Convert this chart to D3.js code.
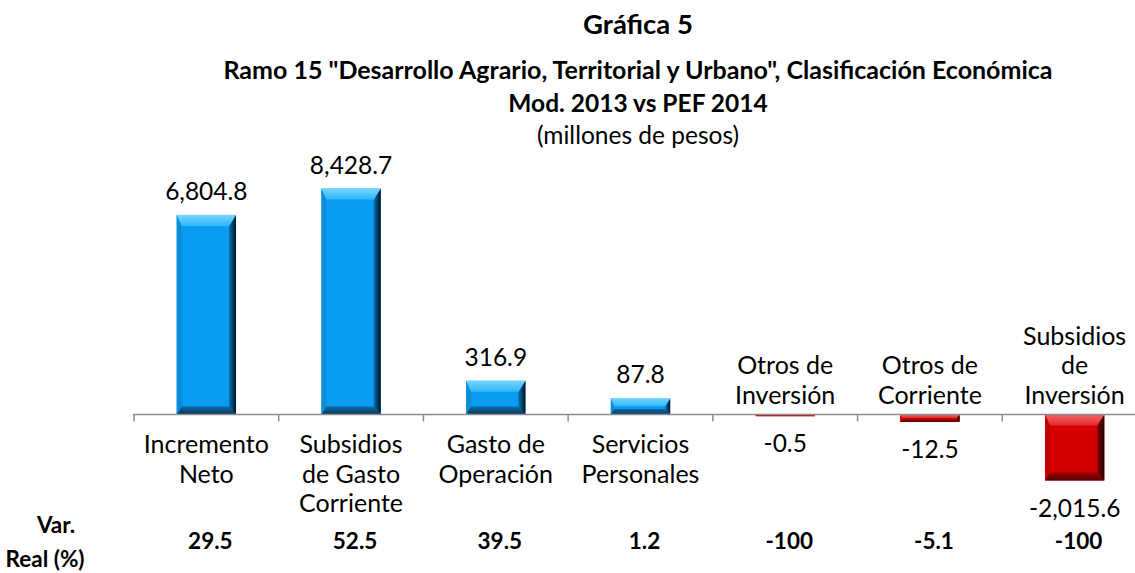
<!DOCTYPE html>
<html><head><meta charset="utf-8">
<script src="https://cdn.jsdelivr.net/npm/d3@7"></script>
<style>body{margin:0;background:#fff}svg{display:block;font-family:Lato,"Open Sans",sans-serif}</style>
</head><body><svg id="c" width="1135" height="573"></svg>
<script>
// ---- data ----
const categories = ["Incremento\nNeto", "Subsidios\nde Gasto\nCorriente", "Gasto de\nOperación", "Servicios\nPersonales", "Otros de\nInversión", "Otros de\nCorriente", "Subsidios\nde\nInversión"];
const values = [6804.8, 8428.7, 316.9, 87.8, -0.5, -12.5, -2015.6];
const varReal = [29.5, 52.5, 39.5, 1.2, -100, -5.1, -100];
const titleLines = ["Gráfica 5", "Ramo 15 \"Desarrollo Agrario, Territorial y Urbano\", Clasificación Económica", "Mod. 2013 vs PEF 2014", "(millones de pesos)"];
const rowLabel = ["Var.", "Real (%)"];

// ---- setup ----
const svg = d3.select("#c");
const loc = d3.formatLocale({decimal: ".", thousands: ",", grouping: [3], currency: ["$", ""], minus: "-"});
const fmtVal = loc.format(",.1f");
const fmtVar = d => Number.isInteger(d) ? loc.format("d")(d) : loc.format(".1f")(d);

const y0 = 414.5;
const x = d3.scaleBand().domain(d3.range(categories.length)).range([134, 1147]).paddingInner(0).paddingOuter(0);
const yPos = d3.scalePow().exponent(0.58).domain([0, d3.max(values)]).range([y0, y0 - 226]);
const yNeg = d3.scalePow().exponent(0.43).domain([0, d3.min(values)]).range([y0, y0 + 66]);
const y = v => v >= 0 ? yPos(v) : yNeg(v);
const barW = x.bandwidth() * 0.41;

// ---- gradients ----
const defs = svg.append("defs");
const pals = {
  blue: {face: "#0a9cf0", top: ["#74d6ff", "#30b6fa"], right: ["#0a70b4", "#001224"], bottom: ["#0b6aa6", "#07385c"], left: ["#0d90dc", "#0a88d0"]},
  red: {face: "#d20000", top: ["#f46464", "#e22a2a"], right: ["#880000", "#1c0000"], bottom: ["#a00000", "#560000"], left: ["#c60000", "#bd0000"]}
};
Object.entries(pals).forEach(([k, p]) => {
  const mk = (id, c, x2, y2) => {
    const g = defs.append("linearGradient").attr("id", id).attr("x1", 0).attr("y1", 0).attr("x2", x2).attr("y2", y2);
    g.append("stop").attr("offset", "0%").attr("stop-color", c[0]);
    g.append("stop").attr("offset", "100%").attr("stop-color", c[1]);
  };
  mk(k + "-top", p.top, 0, 1);
  mk(k + "-right", p.right, 1, 0);
  mk(k + "-bottom", p.bottom, 0, 1);
  mk(k + "-left", p.left, 1, 0);
});

// ---- title ----
const cx = 638;
const tl = svg.append("g").attr("fill", "#000").attr("text-anchor", "middle");
tl.append("text").attr("x", cx).attr("y", 34).attr("font-size", 27.5).attr("font-weight", "bold").text(titleLines[0]);
tl.append("text").attr("x", cx).attr("y", 79).attr("font-size", 25).attr("font-weight", "bold").text(titleLines[1]);
tl.append("text").attr("x", cx).attr("y", 112).attr("font-size", 24.5).attr("font-weight", "bold").text(titleLines[2]);
tl.append("text").attr("x", cx).attr("y", 144).attr("font-size", 24.5).text(titleLines[3]);

// ---- bars ----
const bars = svg.append("g");
values.forEach((v, i) => {
  const p = v >= 0 ? "blue" : "red";
  const x0 = x(i) + (x.bandwidth() - barW) / 2, x1 = x0 + barW;
  const yt = Math.min(y(v), y0), yb = Math.max(y(v), y0);
  const h = yb - yt;
  const f = Math.min(1, h / 23);
  const T = 11 * f, B = 8 * f, L = 5 * Math.max(f, 0.4), R = 7 * Math.max(f, 0.4);
  const g = bars.append("g");
  g.append("rect").attr("x", x0).attr("y", yt).attr("width", barW).attr("height", Math.max(h, 1.5)).attr("fill", pals[p].face);
  const poly = (pts, fill) => g.append("polygon").attr("points", pts.map(d => d.join(",")).join(" ")).attr("fill", fill);
  if (h > 2.5) {
    poly([[x0, yt], [x0 + L, yt + T], [x0 + L, yb - B], [x0, yb]], `url(#${p}-left)`);
    poly([[x1, yt], [x1, yb], [x1 - R, yb - B], [x1 - R, yt + T]], `url(#${p}-right)`);
    poly([[x0, yb], [x1, yb], [x1 - R, yb - B], [x0 + L, yb - B]], `url(#${p}-bottom)`);
    poly([[x0, yt], [x1, yt], [x1 - R, yt + T], [x0 + L, yt + T]], `url(#${p}-top)`);
  }
});

// ---- axis ----
const ax = svg.append("g").attr("stroke", "#8c8c8c").attr("stroke-width", 1.5);
ax.append("line").attr("x1", x.range()[0] - 1).attr("x2", 1135).attr("y1", y0).attr("y2", y0);
ax.selectAll("line.t").data(d3.range(categories.length + 1)).join("line").attr("class", "t")
  .attr("x1", d => x.range()[0] + d * x.step()).attr("x2", d => x.range()[0] + d * x.step())
  .attr("y1", y0).attr("y2", y0 + 7);

// ---- value labels ----
const vl = svg.append("g").attr("font-size", 24.5).attr("text-anchor", "middle").attr("fill", "#000");
values.forEach((v, i) => {
  const cxb = x(i) + x.bandwidth() / 2;
  vl.append("text").attr("x", cxb).attr("y", v >= 0 ? y(v) - 15 : y(v) + 36).text(fmtVal(v));
});

// ---- category labels ----
const cl = svg.append("g").attr("font-size", 25).attr("text-anchor", "middle").attr("fill", "#000");
const lh = 29.5;
categories.forEach((c, i) => {
  const lines = c.split("\n");
  const cxb = x(i) + x.bandwidth() / 2;
  const t = cl.append("text");
  lines.forEach((ln, j) => {
    const yy = values[i] >= 0 ? y0 + 38.5 + j * lh : y0 - 11 - (lines.length - 1 - j) * lh;
    t.append("tspan").attr("x", cxb).attr("y", yy).text(ln);
  });
});

// ---- Var. Real row ----
const vr = svg.append("g").attr("font-size", 22.5).attr("font-weight", "bold").attr("fill", "#000");
vr.append("text").attr("x", 56).attr("y", 533).attr("text-anchor", "middle").text(rowLabel[0]);
vr.append("text").attr("x", 45).attr("y", 567).attr("text-anchor", "middle").text(rowLabel[1]);
varReal.forEach((d, i) => {
  vr.append("text").attr("x", x(i) + x.bandwidth() / 2 + 4).attr("y", 549).attr("text-anchor", "middle").text(fmtVar(d));
});
</script></body></html>
